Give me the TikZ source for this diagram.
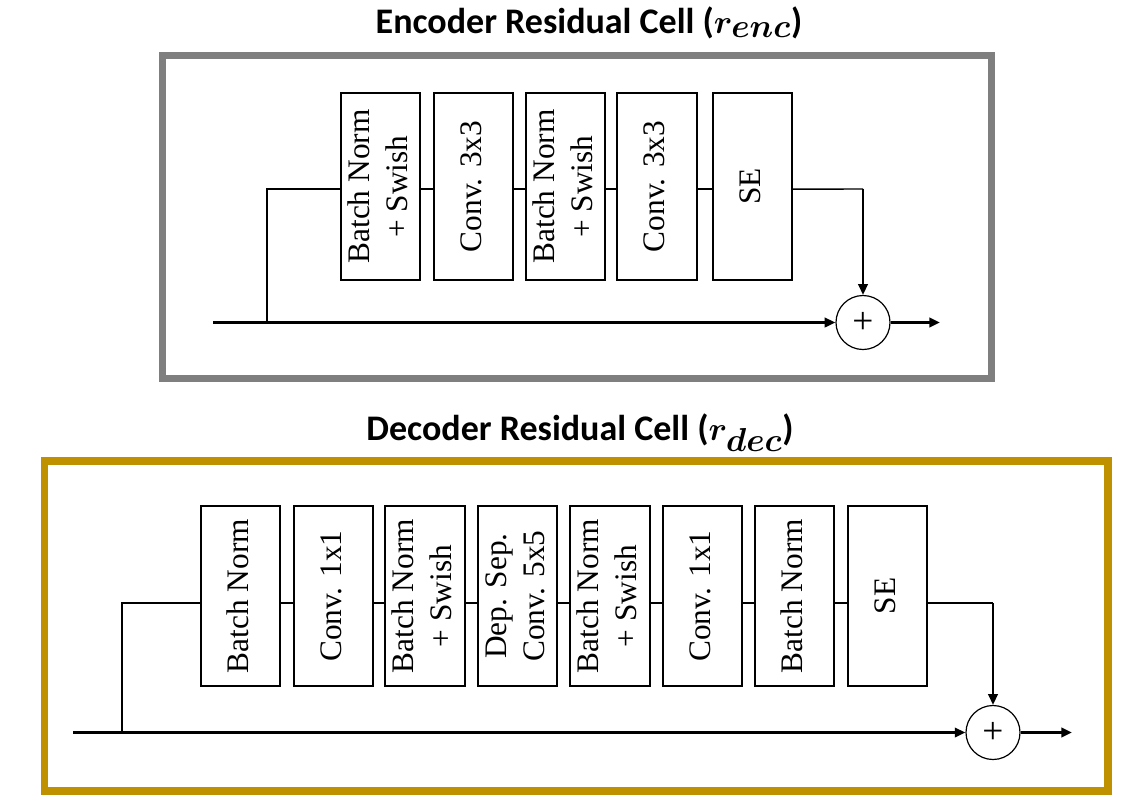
\documentclass[tikz,border=0pt]{standalone}
\usepackage{fontspec}
\usepackage{graphicx}
\usepackage{amsmath,bm}
\setmainfont{Liberation Serif}
\newfontfamily\titlefont{Carlito}
\usetikzlibrary{arrows.meta}
\definecolor{encgray}{HTML}{7F7F7F}
\definecolor{decgold}{HTML}{BF9000}
\newcommand\vtext[1]{\rotatebox{90}{\begin{tabular}{@{}c@{}}#1\end{tabular}}}
\newcommand\rsub[1]{{\fontsize{33}{35}\selectfont$\bm{r}_{\bm{#1}}$}}
\begin{document}
\begin{tikzpicture}[x=0.75pt,y=-0.75pt,
  encblk/.style={draw,line width=1.5pt,minimum width=59.5pt,minimum height=140.5pt,inner sep=0pt,
    font=\fontsize{23.5}{28.5}\selectfont},
  decblk/.style={draw,line width=1.5pt,minimum width=59.5pt,minimum height=135.5pt,inner sep=0pt,
    font=\fontsize{23.5}{28.5}\selectfont},
  sumc/.style={draw,circle,line width=0.9pt,minimum size=40.5pt,inner sep=0pt,
    font=\fontsize{28}{30}\selectfont},
  cn/.style={line width=1.1pt},
  mainln/.style={line width=2.2pt},
  arr/.style={-{Triangle[length=8pt,width=7pt]}},
  frameenc/.style={draw=encgray,line width=5.25pt},
  framedec/.style={draw=decgold,line width=5.5pt},
  ttl/.style={anchor=base,font=\titlefont\bfseries\fontsize{27}{31}\selectfont}
]
\useasboundingbox (0,0) rectangle (1144,804);

% ---------------- Encoder ----------------
\node[ttl] (t1) at (589,33) {Encoder Residual Cell (\rsub{enc})};
\draw[frameenc] (162,55) rectangle (991,378);

\node[encblk] (e1) at (380.5,186.5) {\vtext{Batch Norm\\+ Swish}};
\node[encblk] (e2) at (473.5,186.5) {\vtext{Conv. 3x3}};
\node[encblk] (e3) at (565.5,186.5) {\vtext{Batch Norm\\+ Swish}};
\node[encblk] (e4) at (657,186.5) {\vtext{Conv. 3x3}};
\node[encblk] (e5) at (752.5,186.5) {\vtext{SE}};
\node[sumc] (es) at (863,322.5) {+};

\coordinate (ein) at (213,322.5);
\coordinate (ebr) at (267,322.5);
\coordinate (ecr) at (863,189);
\coordinate (eout) at (940,322.5);

\draw[mainln,arr] (ein) -- (es);
\draw[cn] (ebr) |- ([yshift=-1.9pt]e1.west);
\draw[cn] ([yshift=-1.9pt]e1.east) -- ([yshift=-1.9pt]e2.west);
\draw[cn] ([yshift=-1.9pt]e2.east) -- ([yshift=-1.9pt]e3.west);
\draw[cn] ([yshift=-1.9pt]e3.east) -- ([yshift=-1.9pt]e4.west);
\draw[cn] ([yshift=-1.9pt]e4.east) -- ([yshift=-1.9pt]e5.west);
\draw[cn] ([yshift=-1.9pt]e5.east) -- (ecr);
\draw[line width=1.8pt,arr] (ecr) -- (es);
\draw[mainln,arr] (es) -- (eout);

% ---------------- Decoder ----------------
\node[ttl] (t2) at (580,440) {Decoder Residual Cell (\rsub{dec})};
\draw[framedec] (44.5,461) rectangle (1108,791);

\node[decblk] (d1) at (240.5,596) {\vtext{Batch Norm}};
\node[decblk] (d2) at (333.5,596) {\vtext{Conv. 1x1}};
\node[decblk] (d3) at (425,596) {\vtext{Batch Norm\\+ Swish}};
\node[decblk] (d4) at (517.5,596) {\vtext{Dep. Sep.\\Conv. 5x5}};
\node[decblk] (d5) at (610,596) {\vtext{Batch Norm\\+ Swish}};
\node[decblk] (d6) at (702.5,596) {\vtext{Conv. 1x1}};
\node[decblk] (d7) at (794.5,596) {\vtext{Batch Norm}};
\node[decblk] (d8) at (887.5,596) {\vtext{SE}};
\node[sumc] (ds) at (993,732.5) {+};

\coordinate (din) at (73,732.5);
\coordinate (dbr) at (122,732.5);
\coordinate (dcr) at (993,603);
\coordinate (dout) at (1072,732.5);

\draw[mainln,arr] (din) -- (ds);
\draw[cn] (dbr) |- ([yshift=-5.25pt]d1.west);
\foreach \a/\b in {d1/d2,d2/d3,d3/d4,d4/d5,d5/d6,d6/d7,d7/d8}
  \draw[cn] ([yshift=-5.25pt]\a.east) -- ([yshift=-5.25pt]\b.west);
\draw[cn] ([yshift=-5.25pt]d8.east) -- (dcr);
\draw[line width=1.8pt,arr] (dcr) -- (ds);
\draw[mainln,arr] (ds) -- (dout);
\end{tikzpicture}
\end{document}
